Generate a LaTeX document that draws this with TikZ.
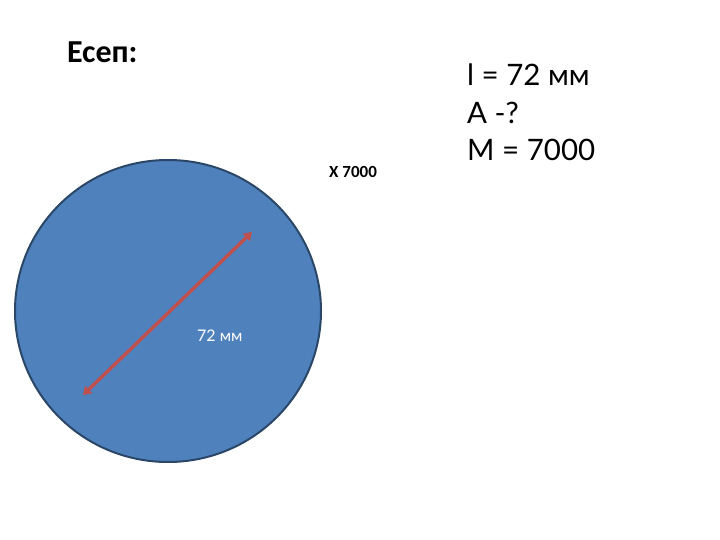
\documentclass[tikz,border=0pt]{standalone}
\usepackage{fontspec}
\setmainfont{Carlito}
\newfontfamily\latofont{Lato}
\usetikzlibrary{arrows.meta}
\definecolor{discblue}{HTML}{4F81BD}
\definecolor{discedge}{HTML}{2B4768}
\definecolor{diamred}{HTML}{C0504D}
\begin{document}
\begin{tikzpicture}[x=1pt,y=-1pt]
    \useasboundingbox (0,0) rectangle (720,540);
    \tikzset{
        given/.style={anchor=west,inner sep=0pt,font=\latofont\fontsize{29.5}{34}\selectfont},
    }

    % disc
    \draw[discedge,line width=2pt,fill=discblue] (168,311) ellipse [x radius=153,y radius=151];

    % diameter
    \coordinate (D1) at (83,395);
    \coordinate (D2) at (252,232);
    \draw[diamred,line width=3.4pt,{Triangle[length=8pt,width=10pt]}-{Triangle[length=8pt,width=10pt]}] (D1) -- (D2);
    \node[white,anchor=west,inner sep=0pt,font=\latofont\fontsize{16}{19}\selectfont] (len) at (197,336) {72 мм};

    % texts
    \node[anchor=west,inner sep=0pt,font=\bfseries\fontsize{32}{38}\selectfont] (title) at (67,52) {Есеп:};
    \node[anchor=west,inner sep=0pt,font=\bfseries\fontsize{17}{20}\selectfont] (scale) at (329,172) {Х 7000};

    \node[given] (l) at (467,75) {l = 72 мм};
    \node[given] (A) at (467,113) {А -?};
    \node[given] (M) at (467,150) {М = 7000};
\end{tikzpicture}
\end{document}
